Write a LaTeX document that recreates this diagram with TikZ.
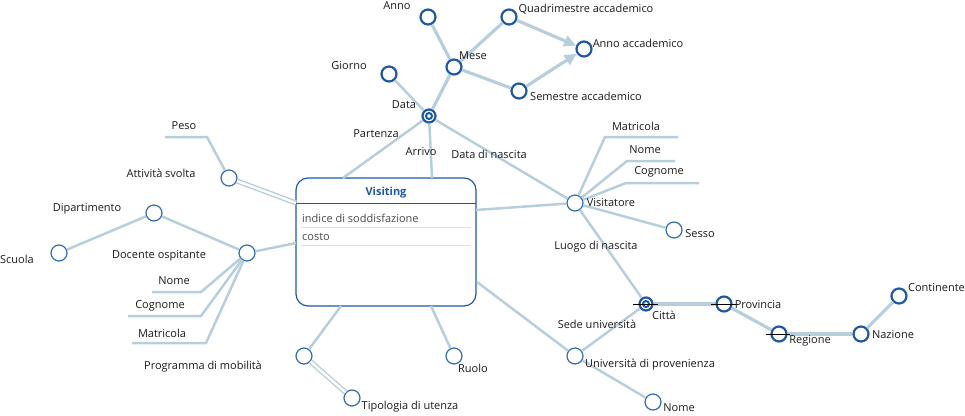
\documentclass[tikz,border=0pt]{standalone}
\usepackage{fontspec}
\setmainfont{Open Sans}
\usetikzlibrary{arrows.meta,positioning,calc}
\definecolor{arcc}{HTML}{B7CFDC}
\definecolor{dimblue}{HTML}{1D5AA3}
\definecolor{attblue}{HTML}{2F6DB5}
\definecolor{rowline}{HTML}{D6E3EC}
\definecolor{txt}{HTML}{1A1A1A}
\tikzset{
lbl/.style={font=\fontsize{11}{13}\selectfont,text=txt,inner sep=0pt},
attr/.style={circle,draw=attblue,line width=1.2pt,fill=white,minimum size=16pt,inner sep=0pt},
hier/.style={circle,draw=dimblue,line width=2.2pt,fill=white,minimum size=15pt,inner sep=0pt},
dual/.style={hier,minimum size=13pt,path picture={\draw[dimblue,line width=2pt](path picture bounding box.center) circle (3pt);}},
fact/.style={draw=dimblue,line width=1.2pt,rounded corners=12pt,fill=white,minimum width=180pt,minimum height=128pt},
arc/.style={draw=arcc,line width=2.5pt},
harc/.style={draw=arcc,line width=3.2pt},
dbl/.style={draw=arcc,line width=1.4pt,double=white,double distance=2.4pt},
toarr/.style={harc,-{Triangle[length=12pt,width=11pt]}},
opt/.style={draw=black,line width=0.8pt}
}
\begin{document}
\begin{tikzpicture}[x=1pt,y=-1pt]
\useasboundingbox (0,0) rectangle (965,415);
% fact
\node[fact](visit) at (386,242){};
\node[font=\fontsize{11}{13}\selectfont\bfseries,text=dimblue](vtitle) at (386,193){Visiting};
\draw[dimblue,line width=1pt](296,203)--(476,203);
\node[lbl,text=black!70,anchor=west](m1) at (302,218){indice di soddisfazione};
\draw[rowline,line width=1pt](301,227)--(471,227);
\node[lbl,text=black!70,anchor=west](m2) at (302,237){costo};
\draw[rowline,line width=1pt](301,245)--(471,245);
\coordinate(vpart) at (343,178);
\coordinate(varr) at (432,178);
\coordinate(vvis) at (476,210);
\coordinate(vuni) at (477,282);
\coordinate(vruo) at (431,306);
\coordinate(vprog) at (341,306);
\coordinate(vdoc) at (296,243);
\coordinate(vatt) at (296,203);
% time
\node[dual](data) at (429,116){};
\node[hier](giorno) at (389,74){};
\node[hier](mese) at (454,67){};
\node[hier](anno) at (428,17){};
\node[hier](quad) at (509,17){};
\node[hier](sem) at (519,91){};
\node[hier](annoacc) at (584,49){};
% visitor
\node[attr](visitatore) at (575,203){};
\node[attr](sesso) at (674,230){};
\node[dual](citta) at (646,304){};
\node[hier](prov) at (724,304){};
\node[hier](reg) at (779,334){};
\node[hier](naz) at (861,334){};
\node[hier](cont) at (899,296){};
\node[attr](univ) at (575,356){};
\node[attr](unome) at (653,402){};
\node[attr](ruolo) at (454,356){};
\node[attr](prog) at (304,356){};
\node[attr](tipo) at (352,398){};
\node[attr](att) at (229,178){};
\node[attr](docente) at (247,253){};
\node[attr](dip) at (154,213){};
\node[attr](scuola) at (59,253){};
% descriptive ends
\coordinate(vmc) at (605,137);\coordinate(vme) at (678,137);
\coordinate(vnc) at (627,161);\coordinate(vne) at (675,161);
\coordinate(vcc) at (626,183);\coordinate(vce) at (699,183);
\coordinate(dnc) at (201,292);\coordinate(dne) at (152,292);
\coordinate(dcc) at (201,316);\coordinate(dce) at (128,316);
\coordinate(dmc) at (206,343);\coordinate(dme) at (132,343);
\coordinate(pc) at (207,137);\coordinate(pe) at (165,137);
% arcs
\draw[arc](data)--(vpart);
\draw[arc](data)--(varr);
\draw[arc](data)--(visitatore);
\draw[arc](data)--(giorno);
\draw[harc](data)--(mese);
\draw[harc](mese)--(anno);
\draw[harc](mese)--(quad);
\draw[harc](mese)--(sem);
\draw[toarr](quad)--(annoacc);
\draw[toarr](sem)--(annoacc);
\draw[arc](visitatore)--(vvis);
\draw[arc](visitatore)--(sesso);
\draw[arc](visitatore)--(citta);
\draw[arc](visitatore)--(vmc)--(vme);
\draw[arc](visitatore)--(vnc)--(vne);
\draw[arc](visitatore)--(vcc)--(vce);
\draw[harc](citta)--(prov);
\draw[harc](prov)--(reg);
\draw[harc](reg)--(naz);
\draw[harc](naz)--(cont);
\draw[arc](univ)--(vuni);
\draw[arc](univ)--(citta);
\draw[arc](univ)--(unome);
\draw[arc](ruolo)--(vruo);
\draw[arc](prog)--(vprog);
\draw[dbl](prog)--(tipo);
\draw[dbl](att)--(vatt);
\draw[arc](att)--(pc)--(pe);
\draw[arc](docente)--(vdoc);
\draw[arc](docente)--(dip);
\draw[arc](dip)--(scuola);
\draw[arc](docente)--(dnc)--(dne);
\draw[arc](docente)--(dcc)--(dce);
\draw[arc](docente)--(dmc)--(dme);
\draw[opt]([xshift=-13pt]citta.center)--([xshift=12pt]citta.center);
\draw[opt]([xshift=-13pt]prov.center)--([xshift=14pt]prov.center);
\draw[opt]([xshift=-13pt]reg.center)--([xshift=11pt]reg.center);
% labels
\node[lbl](lanno) at (397,6){Anno};
\node[lbl](lquad) at (586,9){Quadrimestre accademico};
\node[lbl](lannoacc) at (638,43){Anno accademico};
\node[lbl](lmese) at (473,56){Mese};
\node[lbl](lgiorno) at (349,66){Giorno};
\node[lbl](lsem) at (586,96){Semestre accademico};
\node[lbl](ldata) at (404,105){Data};
\node[lbl](lpart) at (376,134){Partenza};
\node[lbl](larr) at (421,152){Arrivo};
\node[lbl](lnasc) at (489,154){Data di nascita};
\node[lbl](lvmat) at (636,126){Matricola};
\node[lbl](lvnome) at (645,150){Nome};
\node[lbl](lvcog) at (659,172){Cognome};
\node[lbl](lvis) at (611,203){Visitatore};
\node[lbl](lsesso) at (700,234){Sesso};
\node[lbl](lluogo) at (596,247){Luogo di nascita};
\node[lbl](lcitta) at (664,315){Città};
\node[lbl](lprov) at (758,305){Provincia};
\node[lbl](lreg) at (810,341){Regione};
\node[lbl](lnaz) at (893,335){Nazione};
\node[lbl,anchor=east](lcont) at (965,288){Continente};
\node[lbl](lsede) at (597,324){Sede università};
\node[lbl](luniv) at (650,365){Università di provenienza};
\node[lbl](lunome) at (679,408){Nome};
\node[lbl](lruolo) at (473,368){Ruolo};
\node[lbl](ltipo) at (410,407){Tipologia di utenza};
\node[lbl](lprog) at (203,367){Programma di mobilità};
\node[lbl](ldmat) at (162,333){Matricola};
\node[lbl](ldcog) at (160,306){Cognome};
\node[lbl](ldnome) at (174,281){Nome};
\node[lbl](ldoc) at (159,256){Docente ospitante};
\node[lbl](ldip) at (87,209){Dipartimento};
\node[lbl,anchor=west](lscuola) at (0,259){Scuola};
\node[lbl](latt) at (161,173){Attività svolta};
\node[lbl](lpeso) at (184,126){Peso};
\end{tikzpicture}
\end{document}
